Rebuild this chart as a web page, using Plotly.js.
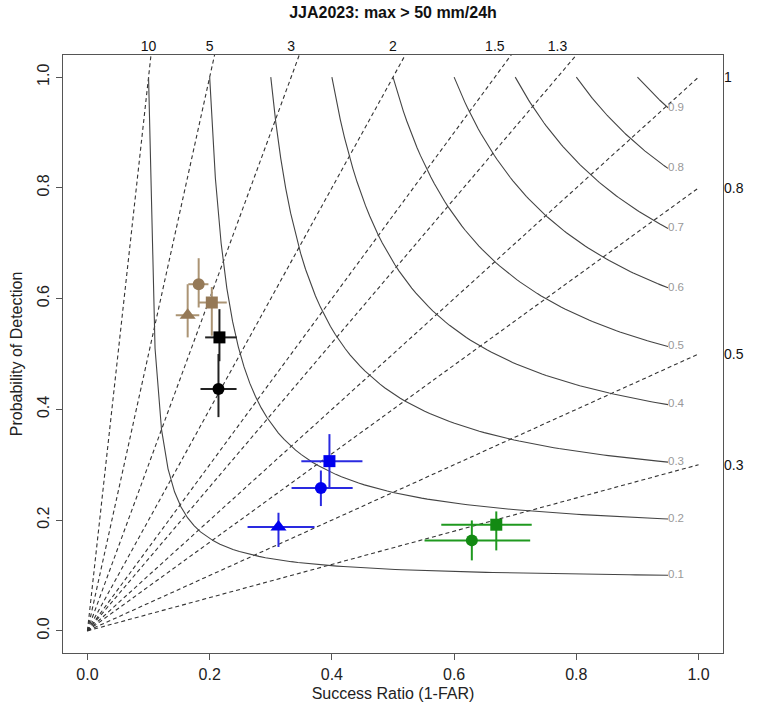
<!DOCTYPE html>
<html>
<head>
<meta charset="utf-8">
<script src="https://cdn.plot.ly/plotly-3.0.1.min.js"></script>
<style>html,body{margin:0;padding:0;background:#fff;}#chart{width:765px;height:706px;}</style>
</head>
<body>
<div id="chart"></div>
<script>
// ---- Diagram reference values ----
const biasVals = [10, 5, 3, 2, 1.5, 1.3, 1, 0.8, 0.5, 0.3];
const biasTopVals = [10, 5, 3, 2, 1.5, 1.3];
const biasTopLabels = ['10', '5', '3', '2', '1.5', '1.3'];
const biasRightVals = [1, 0.8, 0.5, 0.3];
const biasRightLabels = ['1', '0.8', '0.5', '0.3'];
const csiVals = [0.1, 0.2, 0.3, 0.4, 0.5, 0.6, 0.7, 0.8, 0.9];
const csiLabels = ['0.1', '0.2', '0.3', '0.4', '0.5', '0.6', '0.7', '0.8', '0.9'];
const xTickVals = [0, 0.2, 0.4, 0.6, 0.8, 1.0];
const xTickText = ['0.0', '0.2', '0.4', '0.6', '0.8', '1.0'];
const yTickVals = [0, 0.2, 0.4, 0.6, 0.8, 1.0];
const yTickText = ['0.0', '0.2', '0.4', '0.6', '0.8', '1.0'];

// ---- Data (success ratio, POD, confidence bounds) ----
// brown: circle, square, triangle
const symBrown = ['circle', 'square', 'triangle-up'];
const srBrown = [0.182, 0.2035, 0.164];
const srLoBrown = [0.165, 0.182, 0.1445];
const srHiBrown = [0.198, 0.228, 0.183];
const podBrown = [0.626, 0.593, 0.570];
const podLoBrown = [0.584, 0.533, 0.530];
const podHiBrown = [0.673, 0.621, 0.626];

// black: circle, square
const symBlack = ['circle', 'square'];
const srBlack = [0.2144, 0.2160];
const srLoBlack = [0.185, 0.1926];
const srHiBlack = [0.244, 0.2444];
const podBlack = [0.4367, 0.530];
const podLoBlack = [0.386, 0.487];
const podHiBlack = [0.500, 0.581];

// blue: circle, square, triangle
const symBlue = ['circle', 'square', 'triangle-up'];
const srBlue = [0.382, 0.396, 0.3126];
const srLoBlue = [0.334, 0.350, 0.262];
const srHiBlue = [0.434, 0.450, 0.3715];
const podBlue = [0.2578, 0.3065, 0.1875];
const podLoBlue = [0.2254, 0.2566, 0.1515];
const podHiBlue = [0.2896, 0.3553, 0.2133];

// green: circle, square
const symGreen = ['circle', 'square'];
const srGreen = [0.629, 0.669];
const srLoGreen = [0.5516, 0.579];
const srHiGreen = [0.7245, 0.727];
const podGreen = [0.1634, 0.1917];
const podLoGreen = [0.1273, 0.1453];
const podHiGreen = [0.1994, 0.2157];

const FONT = 'Liberation Sans, Arial, sans-serif';
const traces = [];

// bias lines (dashed, from origin, POD = bias * SR)
biasVals.forEach(b => {
  traces.push({
    x: [0, 1], y: [0, b], mode: 'lines', type: 'scatter',
    line: {color: '#333333', width: 1.1, dash: '4px,3px'},
    hoverinfo: 'skip', showlegend: false
  });
});

// CSI contours
const csiLabX = [], csiLabY = [];
csiVals.forEach(c => {
  const xs = [], ys = [];
  const n = 80;
  for (let i = 0; i <= n; i++) {
    const sr = c + (0.95 - c) * i / n;
    const pod = 1 / (1 / c - 1 / sr + 1);
    xs.push(sr); ys.push(pod);
  }
  traces.push({
    x: xs, y: ys, mode: 'lines', type: 'scatter',
    line: {color: '#444444', width: 1.1},
    hoverinfo: 'skip', showlegend: false
  });
  csiLabX.push(0.95);
  csiLabY.push(ys[ys.length - 1]);
});
traces.push({
  x: csiLabX, y: csiLabY, text: csiLabels, mode: 'text', type: 'scatter',
  textposition: 'middle right',
  textfont: {family: FONT, size: 11.5, color: '#999999'},
  hoverinfo: 'skip', showlegend: false, cliponaxis: false
});

function group(sym, sr, srLo, srHi, pod, podLo, podHi, mColor, eColor, sizes) {
  return {
    x: sr, y: pod, mode: 'markers', type: 'scatter',
    marker: {symbol: sym, color: mColor, size: sizes, opacity: 1, line: {width: 0}},
    error_x: {type: 'data', symmetric: false,
      array: sr.map((v, i) => srHi[i] - v),
      arrayminus: sr.map((v, i) => v - srLo[i]),
      color: eColor, thickness: 2, width: 0},
    error_y: {type: 'data', symmetric: false,
      array: pod.map((v, i) => podHi[i] - v),
      arrayminus: pod.map((v, i) => v - podLo[i]),
      color: eColor, thickness: 2, width: 0},
    hoverinfo: 'x+y', showlegend: false
  };
}
const sz = s => s.map(k => k === 'triangle-up' ? 14 : 12);
traces.push(group(symBrown, srBrown, srLoBrown, srHiBrown, podBrown, podLoBrown, podHiBrown, '#957957', '#ab9474', sz(symBrown)));
traces.push(group(symBlack, srBlack, srLoBlack, srHiBlack, podBlack, podLoBlack, podHiBlack, '#000000', '#222222', sz(symBlack)));
traces.push(group(symBlue, srBlue, srLoBlue, srHiBlue, podBlue, podLoBlue, podHiBlue, '#0000ee', '#2a2ae0', sz(symBlue)));
traces.push(group(symGreen, srGreen, srLoGreen, srHiGreen, podGreen, podLoGreen, podHiGreen, '#138a13', '#1f991f', sz(symGreen)));

// invisible trace to anchor the secondary axes
traces.push({x: [0.5], y: [0.5], xaxis: 'x2', yaxis: 'y2', mode: 'markers',
  marker: {opacity: 0}, hoverinfo: 'skip', showlegend: false});

const axisFont = {family: FONT, size: 16, color: '#222'};
const layout = {
  width: 765, height: 706,
  margin: {l: 63, r: 42, t: 55, b: 53},
  paper_bgcolor: '#fff', plot_bgcolor: '#fff',
  font: {family: FONT},
  title: {text: '<b>JJA2023: max > 50 mm/24h</b>', x: 0.5, xref: 'paper', y: 0.99, yref: 'container',
    font: {family: FONT, size: 16, color: '#111'}},
  xaxis: {range: [-0.04, 1.04], tickvals: xTickVals, ticktext: xTickText,
    showgrid: false, zeroline: false, showline: true, mirror: true, linecolor: '#555', linewidth: 1.3,
    ticks: 'outside', ticklen: 6, tickcolor: '#555', tickfont: axisFont,
    title: {text: 'Success Ratio (1-FAR)', font: {family: FONT, size: 16, color: '#222'}, standoff: 6}},
  yaxis: {range: [-0.04, 1.04], tickvals: yTickVals, ticktext: yTickText, tickangle: -90,
    showgrid: false, zeroline: false, showline: true, mirror: true, linecolor: '#555', linewidth: 1.3,
    ticks: 'outside', ticklen: 6, tickcolor: '#555', tickfont: axisFont,
    title: {text: 'Probability of Detection', font: {family: FONT, size: 16, color: '#222'}, standoff: 8}},
  xaxis2: {overlaying: 'x', side: 'top', range: [-0.04, 1.04], anchor: 'y',
    tickvals: biasTopVals.map(b => 1 / b), ticktext: biasTopLabels,
    showgrid: false, zeroline: false, showline: false, ticks: '',
    tickfont: {family: FONT, size: 14, color: '#111'}},
  yaxis2: {overlaying: 'y', side: 'right', range: [-0.04, 1.04], anchor: 'x',
    tickvals: biasRightVals, ticktext: biasRightLabels,
    showgrid: false, zeroline: false, showline: false, ticks: '',
    tickfont: {family: FONT, size: 14, color: '#111'}}
};

Plotly.newPlot('chart', traces, layout, {displayModeBar: false, staticPlot: true});
</script>
</body>
</html>
